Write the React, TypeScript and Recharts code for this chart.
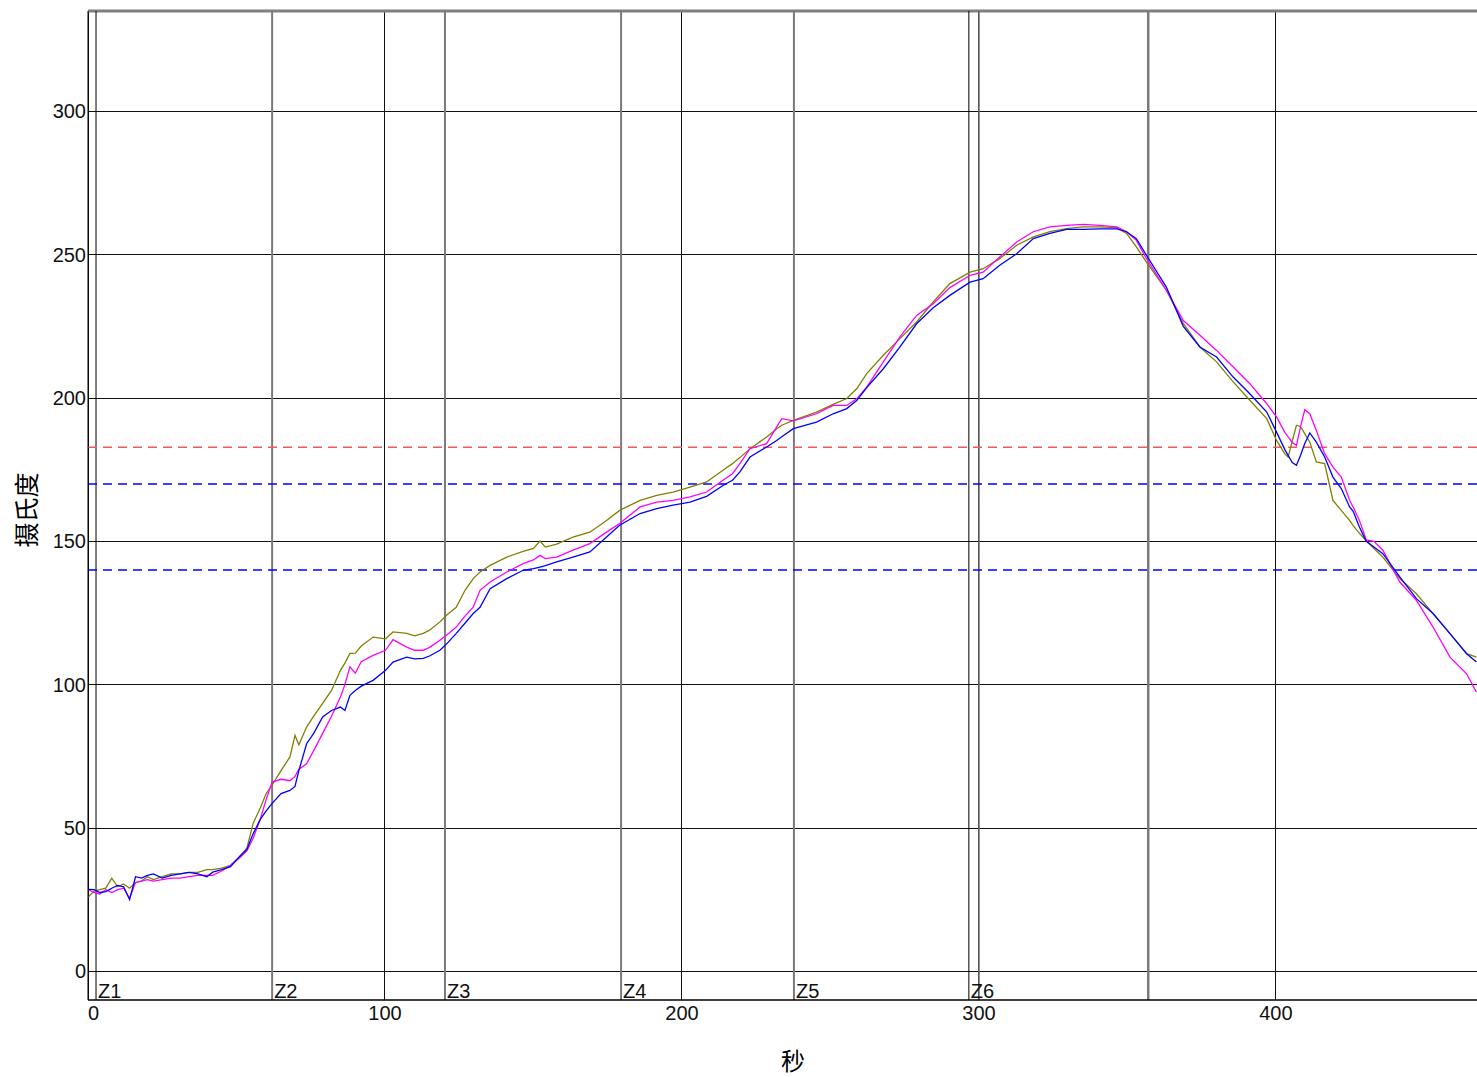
import React from 'react'
import {
  ComposedChart, Line, XAxis, YAxis, CartesianGrid, ReferenceLine,
} from 'recharts'

// 时间 (秒)
const times = [
  0, 2, 4, 6, 8, 10, 12, 14, 16, 18, 20, 22, 25, 28, 31, 34, 37, 40, 42, 45,
  48, 51, 53.5, 55.6, 58, 60, 62, 65, 68, 69.7, 71, 73.6, 76, 79, 82, 85, 86.5, 88.2, 90, 92,
  96, 100.2, 102.7, 107.3, 110, 112.9, 115, 118.5, 121, 124, 127, 129.7, 132, 135.4, 141, 146.5, 150, 152.2, 154, 157.8,
  163.3, 169, 174.6, 179, 185.9, 191.5, 197, 202.7, 208.3, 213.8, 217, 219.5, 222.9, 228.5, 231.9, 233.6, 237.5, 245.3, 250.9, 255.5,
  258.9, 262.2, 267.8, 273.4, 279, 284.6, 290.2, 297, 301.4, 307, 312.7, 318.3, 323.9, 329.5, 335.1, 340.7, 346.4, 349.7, 353, 356.4,
  363.1, 368.8, 374.4, 380, 385.6, 391.2, 396.9, 400.2, 403, 404.1, 405.5, 406.9, 408.3, 409.7, 411.4, 413.6, 416.4, 419.2, 422, 424.8,
  426, 428.1, 430.4, 433, 436, 441.7, 447.3, 452.9, 458.6, 464.2, 467.5,
]

const oliveSeries = [
  25.8, 28, 28.5, 29, 32.5, 29.5, 30.5, 29, 31, 31.5, 33, 32, 33, 34, 34, 34.5, 34.5, 35.5, 35.5, 36,
  37, 40, 43, 51.6, 57, 62, 65, 70, 74.8, 82.3, 79, 85.2, 89, 93.5, 98, 105, 107.5, 110.9, 111, 113.5,
  116.6, 116, 118.4, 117.9, 117, 117.9, 119, 121.9, 124.5, 127, 133, 137, 139.3, 141.6, 144.5, 146.5, 147.5, 150.1, 148, 149,
  151.5, 153.2, 157.3, 160.8, 164.3, 166, 167.2, 168.9, 170.7, 174.8, 177.1, 179.2, 182.3, 186.4, 189.3, 190.5, 192.2, 195.1, 197.8, 199.8,
  203.3, 208.5, 214.9, 220.7, 226.5, 233.5, 239.9, 243.9, 245.1, 248.6, 253.3, 256.2, 258, 259.1, 259.7, 259.7, 259.4, 257.4, 252.7, 247.4,
  237.6, 226, 217.8, 212.6, 205.6, 199.2, 192.8, 185.2, 180.5, 179.4, 185, 190.5, 190, 187.6, 184.6, 177.7, 177.1, 164.3, 160.8, 157.3,
  155.5, 152.8, 150.3, 147.5, 144.5, 137, 131.7, 124.8, 117.8, 110.8, 109.6,
]

const magentaSeries = [
  28.5, 27.5, 27, 28.5, 27.5, 28.5, 29, 25.5, 31, 31.5, 32, 31.5, 32, 32.5, 32.5, 33, 33.5, 33.5, 33.5, 35,
  37, 39.5, 42, 46.4, 53, 60, 66, 67, 66.5, 68, 70.5, 72.4, 77, 83, 89, 95.7, 100, 106.2, 104, 108,
  110.2, 112, 115.7, 113.1, 112, 112, 113, 115.5, 117.5, 120.1, 124, 127, 132.9, 135.8, 139.3, 142.2, 143.5, 145.1, 144, 144.5,
  146.9, 149.2, 153.2, 156.2, 162, 163.7, 164.3, 165.5, 167.2, 171.3, 173.6, 177.1, 182.3, 184.1, 189.9, 192.8, 192, 194.5, 197.4, 197.4,
  199.8, 203.8, 212.6, 221.3, 228.8, 232.9, 238.5, 242.8, 243.9, 249.2, 254.4, 258, 259.7, 260.2, 260.6, 260.2, 259.7, 258, 255, 248.6,
  237.6, 227, 221.9, 216.6, 210.8, 205, 198, 193.4, 188, 186.4, 184.5, 183.5, 190, 195.9, 194.5, 188.7, 180.6, 175.9, 172.4, 164.3,
  162, 157.3, 150.5, 150, 146.9, 135.8, 129.4, 120.1, 109.6, 103.8, 97.4,
]

const blueSeries = [
  28.6, 28.5, 27.5, 27.8, 29, 30, 29.5, 25, 33, 32.5, 33.5, 34, 32.5, 33.5, 34, 34.5, 34, 33, 34.6, 35.5,
  36.5, 40, 42.5, 48, 53, 56, 58.6, 62, 63.1, 64.5, 70, 79.4, 83, 88.7, 91, 92.2, 91, 96.3, 98, 99.5,
  101.5, 105, 107.9, 109.6, 109, 109.2, 110, 112, 114.5, 117.9, 121.5, 124.8, 127, 133.5, 137, 139.9, 140.5, 141, 141.5, 142.8,
  144.5, 146.3, 151.5, 155.6, 159.7, 161.4, 162.6, 163.7, 165.7, 169.5, 171.3, 174.2, 179.4, 182.9, 185.2, 186.5, 189.3, 191.6, 194.5, 196.3,
  199.2, 203.6, 210.2, 217.8, 225.9, 231.5, 235.8, 240.4, 241.6, 246.3, 250.3, 255.6, 257.4, 258.8, 258.8, 259, 259, 258, 255.6, 249.8,
  238.7, 225, 217.8, 214.3, 207.3, 201.5, 195.1, 188.1, 182, 180, 177.5, 176.5, 180, 184.1, 187.8, 184.6, 179.4, 172.4, 168.4, 162,
  160.5, 155, 150, 148, 145.7, 137.6, 130, 124.8, 117.8, 110.8, 107.9,
]

const xTicks = [0, 100, 200, 300, 400]
const yTicks = [0, 50, 100, 150, 200, 250, 300]

const zones = [
  { name: 'Z1', t: 2.7, color: '#000000', width: 1 },
  { name: 'Z2', t: 62, color: '#7a7a7a', width: 2 },
  { name: 'Z3', t: 120.2, color: '#7a7a7a', width: 2 },
  { name: 'Z4', t: 179.5, color: '#7a7a7a', width: 2 },
  { name: 'Z5', t: 237.7, color: '#7a7a7a', width: 2 },
  { name: 'Z6', t: 296.6, color: '#000000', width: 1 },
  { name: '', t: 357, color: '#7a7a7a', width: 2.5 },
]

const limits = [
  { v: 182.8, color: '#f05a5a' },
  { v: 170, color: '#0000ff' },
  { v: 140, color: '#0000ff' },
]

const rows = times.map((t, i) => ({
  t,
  olive: oliveSeries[i],
  magenta: magentaSeries[i],
  blue: blueSeries[i],
}))

const FONT = 'Liberation Sans, Arial, sans-serif'
const CJK = '"Noto Sans CJK SC", sans-serif'

function XTick(props: any) {
  const { x, y, payload } = props
  const first = payload.value === 0
  return (
    <text x={x} y={y} dy="0.71em" textAnchor={first ? 'start' : 'middle'}
      fontSize={20} fontFamily={FONT} fill="#111">
      {payload.value}
    </text>
  )
}

function YTitle() {
  return (
    <text x={25} y={510} transform="rotate(-90 25 510)" textAnchor="middle" dominantBaseline="central"
      fontSize={25} fontFamily={CJK} fill="#000">
      摄氏度
    </text>
  )
}

function XTitle() {
  return (
    <text x={793} y={1059} textAnchor="middle" dominantBaseline="central"
      fontSize={24} fontFamily={CJK} fill="#000">
      秒
    </text>
  )
}

export default function App() {
  return (
    <div style={{ position: 'absolute', left: 0, top: 0, width: 1477, height: 1077, background: '#fff' }}>
      <ComposedChart width={1477} height={1077} data={rows}
        margin={{ top: 11, right: 0, left: 0, bottom: 0 }}>
        <CartesianGrid stroke="#111" strokeWidth={1} shapeRendering="crispEdges"
          horizontalValues={yTicks} verticalValues={xTicks} />
        <XAxis dataKey="t" type="number" domain={[0, 467.7]} ticks={xTicks} allowDataOverflow
          height={77} tickSize={4} tickMargin={2} tickLine={false}
          axisLine={{ stroke: '#000', strokeWidth: 1.5 }} tick={<XTick />} label={<XTitle />} />
        <YAxis type="number" domain={[-10, 335]} ticks={yTicks} allowDataOverflow width={88}
          tickSize={0} tickMargin={2} tickLine={false}
          axisLine={{ stroke: '#000', strokeWidth: 1 }}
          tick={{ fontSize: 20, fontFamily: FONT, fill: '#111' }} label={<YTitle />} />
        <ReferenceLine y={335} stroke="#808080" strokeWidth={3} />
        <ReferenceLine x={300} stroke="#666" strokeWidth={1.5} />
        {zones.map(z => (
          <ReferenceLine key={z.t} x={z.t} stroke={z.color} strokeWidth={z.width}
            label={z.name ? { value: z.name, position: 'insideBottomLeft', offset: 2, fontSize: 20, fontFamily: FONT, fill: '#111' } : undefined} />
        ))}
        {limits.map(l => (
          <ReferenceLine key={l.v} y={l.v} stroke={l.color} strokeWidth={1.5} strokeDasharray="9 6" />
        ))}
        <Line type="linear" dataKey="olive" stroke="#808000" strokeWidth={1.3} dot={false} isAnimationActive={false} />
        <Line type="linear" dataKey="magenta" stroke="#ff00ff" strokeWidth={1.3} dot={false} isAnimationActive={false} />
        <Line type="linear" dataKey="blue" stroke="#0000ff" strokeWidth={1.3} dot={false} isAnimationActive={false} />
      </ComposedChart>
    </div>
  )
}
